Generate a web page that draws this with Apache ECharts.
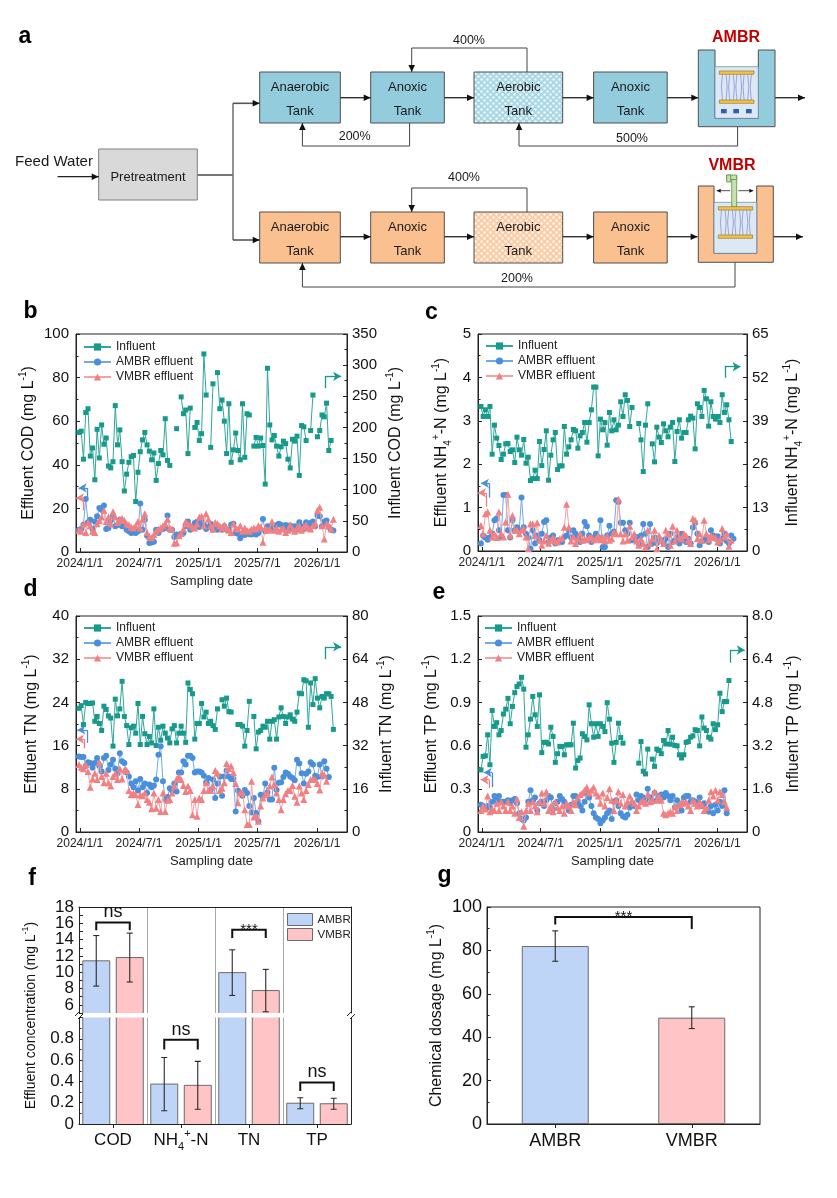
<!DOCTYPE html>
<html><head><meta charset="utf-8"><title>AMBR vs VMBR</title>
<script src="https://cdn.jsdelivr.net/npm/echarts@6/dist/echarts.min.js"></script>
<style>html,body{margin:0;padding:0;background:#fff;}#chart{width:837px;height:1198px;}</style>
</head><body><div id="chart"></div>
<script>
// ---------------- DATA ----------------
const sampleDates = ['2023-12-29','2024-01-05','2024-01-12','2024-01-19','2024-01-26','2024-02-02','2024-02-09','2024-02-16','2024-02-23','2024-03-01','2024-03-08','2024-03-15','2024-03-22','2024-03-29','2024-04-05','2024-04-12','2024-04-19','2024-04-26','2024-05-03','2024-05-10','2024-05-17','2024-05-24','2024-05-31','2024-06-07','2024-06-14','2024-06-21','2024-06-28','2024-07-05','2024-07-12','2024-07-19','2024-07-26','2024-08-02','2024-08-09','2024-08-16','2024-08-23','2024-08-30','2024-09-06','2024-09-13','2024-09-20','2024-09-27','2024-10-04','2024-10-11','2024-10-18','2024-10-25','2024-11-01','2024-11-08','2024-11-15','2024-11-22','2024-11-29','2024-12-06','2024-12-13','2024-12-20','2024-12-27','2025-01-03','2025-01-10','2025-01-17','2025-01-24','2025-01-31','2025-02-07','2025-02-14','2025-02-21','2025-02-28','2025-03-07','2025-03-14','2025-03-21','2025-03-28','2025-04-04','2025-04-11','2025-04-18','2025-04-25','2025-05-02','2025-05-09','2025-05-16','2025-05-23','2025-05-30','2025-06-06','2025-06-13','2025-06-20','2025-06-27','2025-07-04','2025-07-11','2025-07-18','2025-07-25','2025-08-01','2025-08-08','2025-08-15','2025-08-22','2025-08-29','2025-09-05','2025-09-12','2025-09-19','2025-09-26','2025-10-03','2025-10-10','2025-10-17','2025-10-24','2025-10-31','2025-11-07','2025-11-14','2025-11-21','2025-11-28','2025-12-05','2025-12-12','2025-12-19','2025-12-26','2026-01-02','2026-01-09','2026-01-16','2026-01-23','2026-01-30','2026-02-06','2026-02-13','2026-02-20','2026-02-27'];
const timeTickLabels = ['2024/1/1','2024/7/1','2025/1/1','2025/7/1','2026/1/1'];
const seriesNames = ['Influent','AMBR effluent','VMBR effluent'];

// b: COD (effluent left axis, influent right axis)
const codInfluent = [192,194,149,224,230,154,167,116,197,151, 204,173,183,138,135,145,235,172,196,145, 98,125,144,153,155,81,128,161,180,192, 172,162,148,159,115,142,163,156,214,147, 139,null,null,198,null,249,222,228,158,231, null,200,208,179,190,318,252,null,168,270, null,288,230,244,210,158,238,144,164,191, 163,148,238,152,222,220,null,170,184,170, 183,171,109,295,204,180,187,170,154,169, 178,174,149,135,181,178,186,123,203,201, 179,null,195,252,null,185,195,220,217,239, 163,179,null,null];
const codAMBR = [10.2,10.5,12.5,24.3,13.6,14.8,10.5,14.0,16.4,20.2, 19.4,21.3,10.5,11.0,14.5,16.7,11.8,12.4,14.8,11.8, 11.8,10.2,9.5,8.7,9.0,8.7,9.5,22.2,10.2,14.8, 7.5,4.1,4.4,4.7,10.2,8.7,10.2,10.5,11.0,16.7, 10.2,10.2,6.9,8.0,7.5,8.4,8.7,11.8,14.0,10.2, 11.8,13.3,13.9,11.5,13.9,12.5,10.5,11.5,13.0,10.2, 12.1,10.2,11.0,10.2,11.8,10.2,10.2,12.5,13.0,8.7, 8.4,6.3,8.4,7.8,9.0,8.1,8.0,8.4,8.0,8.7, 10.2,15.1,9.5,11.8,11.8,10.2,11.8,12.4,13.0,12.4, 10.5,12.4,10.2,12.1,11.0,11.8,10.2,13.6,11.8,10.5, 13.6,11.8,13.3,14.0,11.8,16.7,16.4,11.8,14.0,14.5, 11.5,10.2,9.9];
const codVMBR = [10.0,9.5,13.0,9.0,13.5,12.0,9.5,9.0,13.0,14.5, 16.0,19.0,14.0,16.0,13.0,18.5,16.0,13.5,15.0,15.5, 14.5,13.0,12.5,11.5,11.0,12.0,14.0,11.0,15.0,17.5, 9.0,7.0,6.5,8.0,9.5,10.5,11.0,12.0,13.0,15.0, 11.0,10.5,4.0,4.2,7.5,8.5,10.5,14.0,13.0,12.5, 11.5,11.0,13.0,16.0,16.5,12.0,17.5,15.0,12.0,10.5, 13.5,13.0,12.0,11.0,12.5,11.0,10.0,9.0,13.0,11.0, 10.5,12.0,9.5,11.0,10.0,9.5,10.5,11.0,10.5,12.0, 11.5,4.5,11.0,10.0,10.5,14.0,10.0,11.0,9.5,10.5, 11.0,9.0,10.0,12.5,10.5,9.5,11.0,12.0,10.0,11.5, 12.5,11.0,10.5,12.0,13.0,19.0,20.5,12.0,6.0,13.0, 12.0,10.5,15.0];

// c: NH4+-N
const nhInfluent = [43.3,40.3,42.3,40.3,43.3,29.0,37.7,33.8,31.6,27.4, 29.0,32.1,32.2,29.8,30.3,26.5,34.1,30.3,28.7,33.4, 26.3,28.1,21.1,21.7,24.2,21.7,32.8,25.6,30.4,36.0, 21.2,28.7,33.3,35.5,24.4,25.5,25.5,37.3,29.0,31.2, 33.3,36.4,36.0,30.8,34.5,35.5,38.5,32.6,38.5,42.3, 49.1,49.1,28.5,39.5,36.3,38.5,31.7,41.5,36.0,39.3, 36.3,37.7,44.7,40.3,46.8,45.1,37.3,43.0,null,null, 38.2,33.3,23.8,37.7,44.1,null,32.1,26.7,37.1,34.1, 32.5,38.1,36.0,34.2,37.1,38.5,26.8,35.8,39.3,33.8, 35.5,35.5,39.3,40.4,39.8,30.6,44.1,43.0,40.3,48.1, 45.6,37.4,44.7,40.3,39.5,40.3,38.5,46.8,41.5,43.8, 39.3,32.8,null,null];
const nhAMBR = [0.17,0.36,0.31,0.26,0.31,0.40,0.71,0.75,0.48,0.32, 1.29,1.29,0.48,0.31,0.71,0.48,0.55,0.48,1.23,0.55, 0.40,0.31,0.05,0.48,0.17,0.36,0.25,0.40,0.67,0.71, 0.21,0.31,0.36,0.17,0.25,0.25,0.21,0.32,0.36,0.48, 0.31,0.48,0.40,0.31,0.21,0.40,0.67,0.57,0.36,0.21, 0.31,0.40,0.32,0.71,0.09,0.09,0.36,0.58,0.40,0.45, 1.17,1.13,0.65,0.65,0.48,0.40,0.65,0.25,0.31,0.32, 0.17,0.36,0.62,0.40,0.09,0.62,0.17,0.31,0.18,0.28, 0.25,0.17,0.28,0.09,0.40,0.21,0.25,0.32,0.17,0.40, 0.25,0.21,0.28,0.17,0.54,0.65,0.40,0.13,0.23,0.25, 0.32,0.21,0.48,0.36,0.28,0.34,0.17,0.28,0.40,0.23, 0.18,0.36,0.28];
const nhVMBR = [0.59,0.40,0.86,0.90,0.48,0.32,0.40,0.31,0.90,0.40, 0.32,0.67,1.31,0.36,0.82,0.48,0.48,0.40,0.48,0.52, 0.32,0.05,0.63,0.62,0.36,0.65,0.25,0.13,0.23,0.36, 0.18,0.25,0.31,0.23,0.21,0.28,0.30,0.55,1.08,0.55, 0.23,0.32,0.17,0.28,0.40,0.25,0.28,0.26,0.31,0.32, 0.26,0.28,0.36,0.26,0.32,0.23,0.34,0.25,0.28,0.44, 0.40,1.19,0.40,0.23,0.40,0.25,0.57,0.32,0.40,0.23, 0.13,0.28,0.17,0.09,0.48,0.17,0.28,0.48,0.05,0.36, 0.25,0.17,0.48,0.40,0.13,0.57,0.23,0.48,0.32,0.28, 0.40,0.36,0.25,0.17,0.75,0.71,0.28,0.40,0.25,0.71, 0.40,0.26,0.36,0.32,0.31,0.21,0.26,0.52,0.32,0.40, 0.11,0.25];

// d: TN
const tnInfluent = [45.8,46.8,39.8,48.0,47.6,47.6,47.8,41.0,42.8,40.2, 37.6,46.6,45.4,43.0,42.2,31.8,49.2,43.0,45.6,55.8, 42.8,39.4,32.4,38.6,39.2,36.6,47.6,32.4,42.8,36.4, 32.4,35.4,33.0,45.6,32.0,38.8,34.0,39.2,36.6,34.8, 33.0,38.2,39.4,33.0,36.6,39.2,36.6,33.2,55.2,52.8, 51.2,34.4,40.2,40.2,47.6,42.6,44.4,40.2,41.0,39.4, 38.0,45.6,null,49.0,46.6,49.6,44.6,44.4,null,null, 39.8,39.8,39.2,31.8,37.6,48.4,null,42.8,30.8,37.0, 37.6,39.2,38.8,41.0,34.4,41.0,41.6,34.4,42.6,46.0, 42.8,40.2,42.6,43.4,41.8,41.0,44.4,51.4,51.2,56.4, 56.0,38.8,55.2,47.2,56.8,49.6,46.0,50.2,49.6,51.2, 51.2,50.2,38.0,null];
const tnAMBR = [14.0,13.9,13.9,12.2,12.9,12.8,11.9,12.8,13.7,12.2, 11.2,13.7,14.1,11.5,12.5,13.4,11.7,10.9,14.6,13.1, 12.8,11.0,10.3,9.0,8.3,9.4,7.7,9.8,8.3,9.0, 7.2,8.8,8.3,8.6,9.7,14.3,15.9,9.4,6.0,6.5, 8.1,7.7,9.0,7.5,11.0,11.0,13.1,12.5,14.1,14.1, 13.7,11.0,11.2,11.2,11.0,10.4,9.2,10.0,7.8,9.7, 6.3,9.0,10.3,6.7,10.3,11.4,10.3,9.8,9.8,3.8, 7.7,7.2,6.7,7.8,7.2,4.8,3.6,6.3,3.5,2.0, 6.9,6.6,9.0,7.3,6.0,6.0,11.9,7.8,9.1,9.2, 10.2,11.0,10.8,10.3,10.0,9.6,13.4,12.7,10.9,9.0, 10.8,11.2,12.9,12.5,10.4,10.2,12.5,10.3,13.1,11.7, 10.2];
const tnVMBR = [12.5,12.0,11.7,12.5,11.2,8.3,9.8,10.9,9.7,12.9, 10.3,9.1,10.9,9.1,8.5,10.3,10.8,9.7,11.7,9.8, 11.5,11.4,7.7,6.9,7.2,6.9,5.1,6.9,6.7,7.2, 6.0,5.5,4.3,7.2,4.4,6.0,3.8,7.2,3.8,5.9, 6.0,7.2,8.5,9.8,10.3,9.7,8.6,7.5,8.5,7.7, 3.2,6.0,2.9,6.3,6.0,7.7,9.1,7.7,7.7,8.5, 11.4,10.9,7.7,8.1,9.1,12.7,11.7,12.2,11.0,9.0, 5.4,7.2,7.3,4.1,1.4,1.4,9.4,2.8,2.9,2.0, 4.8,6.3,6.9,7.2,8.5,10.2,8.8,7.2,6.0,4.1, 6.0,7.1,7.7,7.7,8.6,6.6,5.5,8.5,7.2,6.0, 7.7,8.8,9.7,9.8,9.7,9.0,7.8,10.9,10.6,9.4];

// e: TP
const tpInfluent = [2.30,2.80,2.82,3.60,2.49,4.50,3.91,4.05,3.60,3.76, 4.37,4.55,4.95,4.01,4.65,5.16,5.39,5.48,5.73,5.29, 3.14,3.60,4.18,5.02,4.34,3.91,5.08,2.94,3.32,3.32, 3.26,3.88,3.54,2.58,2.90,3.17,3.17,2.86,3.23,3.23, 3.23,4.03,2.37,2.65,2.74,3.64,3.54,3.41,4.71,4.01, 3.51,4.01,3.54,4.01,3.91,3.72,4.79,4.18,3.29,2.58, 3.32,4.03,3.50,3.29,null,null,null,null,null,null, 2.55,3.35,2.25,2.15,3.07,null,2.70,2.43,3.07,3.02, 2.90,3.39,3.26,3.76,3.25,3.51,3.21,3.19,2.86,2.74, 2.86,3.32,3.35,3.51,3.56,3.79,3.76,3.19,4.26,3.85, 3.76,3.51,3.44,4.01,3.79,3.97,5.14,4.46,4.83,4.83, 5.61,null,null,null];
const tpAMBR = [0.19,0.18,0.16,0.18,0.17,0.21,0.25,0.22,0.25,0.21, 0.21,0.21,0.22,0.20,0.22,0.23,0.20,0.13,0.09,0.08, 0.10,0.21,0.29,0.22,0.24,0.15,0.20,0.21,0.18,0.22, 0.25,0.24,0.16,0.20,0.21,0.25,0.23,0.21,0.18,0.15, 0.19,0.25,0.25,0.20,0.18,0.15,0.21,0.27,0.24,0.18, 0.13,0.10,0.09,0.06,0.08,0.10,0.13,0.15,0.09,0.21, 0.22,0.18,0.13,0.11,0.10,0.12,0.17,0.20,0.18,0.26, 0.22,0.25,0.24,0.22,0.30,0.24,0.21,0.27,0.22,0.25, 0.26,0.24,0.27,0.25,0.22,0.25,0.17,0.22,0.18,0.15, 0.24,0.25,0.25,0.21,0.22,0.21,0.20,0.24,0.18,0.20, 0.15,0.14,0.18,0.13,0.19,0.15,0.21,0.18,0.29,0.13];
const tpVMBR = [0.15,0.18,0.16,0.25,0.14,0.16,0.15,0.20,0.15,0.21, 0.18,0.15,0.21,0.15,0.18,0.13,0.23,0.10,0.14,0.04, 0.15,0.20,0.15,0.21,0.18,0.14,0.21,0.27,0.20,0.28, 0.15,0.18,0.14,0.21,0.17,0.15,0.18,0.13,0.20,0.18, 0.15,0.21,0.19,0.24,0.26,0.27,0.29,0.31,0.27,0.29, 0.31,0.27,0.25,0.20,0.27,0.18,0.24,0.30,0.22,0.15, 0.22,0.28,0.20,0.26,0.18,0.21,0.25,0.22,0.20,0.15, 0.18,0.21,0.22,0.20,0.26,0.21,0.22,0.28,0.22,0.25, 0.22,0.13,0.12,0.13,0.14,0.13,0.18,0.15,0.19,0.21, 0.20,0.21,0.18,0.15,0.22,0.20,0.18,0.21,0.19,0.15, 0.17,0.22,0.28,0.25,0.29,0.22,0.28,0.26,0.21,0.17];

// axis-indicator arrows: [x of stem, x of tip, y of head, y of tail]
const arrowsB = {inf:['2026-01-26','2026-03-16',282,263], amb:['2024-01-23','2023-12-28',29.4,24.0], vmb:['2024-01-11','2023-12-20',24.8,19.1]};
const arrowsC = {inf:['2026-01-24','2026-03-14',55.2,51.9], amb:['2024-01-24','2023-12-29',1.56,1.23], vmb:['2024-01-14','2023-12-20',1.34,1.02]};
const arrowsD = {inf:['2026-01-26','2026-03-16',68.6,64.0], amb:['2024-01-23','2023-12-24',18.9,16.5], vmb:['2024-01-14','2023-12-20',17.2,15.5]};
const arrowsE = {inf:['2026-02-09','2026-03-27',6.74,6.27], amb:['2024-02-01','2024-01-07',0.413,0.312], vmb:['2024-01-24','2023-12-28',0.363,0.305]};

// f: effluent concentration summary
const fCategories = ['COD','NH4+-N','TN','TP'];
const fMeanAMBR = [11.4, 0.375, 9.95, 0.195];
const fSdAMBR   = [3.1, 0.25, 2.8, 0.052];
const fMeanVMBR = [11.8, 0.363, 7.75, 0.19];
const fSdVMBR   = [3.0, 0.225, 2.6, 0.052];
const fSigLabel = ['ns','ns','***','ns'];
const fSigY     = [16.1, 0.79, 15.2, 0.39];
const fSigLegY  = [15.15, 0.70, 14.2, 0.31];

// g: chemical dosage
const gCategories = ['AMBR','VMBR'];
const gMean = [82, 49];
const gSd = [7, 5];
const gSigLabel = '***';
const gSigY = 95.4, gSigLegL = 91.9, gSigLegR = 89.9;

// ---------------- STYLE ----------------
const FONT = '"Liberation Sans", Arial, Helvetica, sans-serif';
const AX = '#222';
const C_INF = '#17998b', C_INF_L = '#2fa89a';
const C_AMB = '#4a8fdc', C_AMB_L = '#72a9e8';
const C_VMB = '#f27f82', C_VMB_L = '#f5a2a4';
const BAR_AMB = '#bed5f7', BAR_VMB = '#ffc4c5', BAR_EDGE = '#6b6b6b';
const F_BAR_W = 27, F_BAR_GAP = 6.5, F_OFF = (F_BAR_W + F_BAR_GAP) / 2;

function d2t(s){ const p = s.split(/[-\/]/).map(Number); return new Date(p[0], p[1]-1, p[2]).getTime(); }
const X_MIN = d2t('2023-12-20'), X_MAX = d2t('2026-04-03');
const tickTs = timeTickLabels.map(d2t);
const dateTs = sampleDates.map(d2t);
function fmtDate(v){ const d = new Date(v); return d.getFullYear() + '/' + (d.getMonth()+1) + '/' + d.getDate(); }
function toPairs(arr){ return arr.map((v,i) => [dateTs[i], v == null ? '-' : v]); }

function nameStyle(size){
  const s = Math.round(size*0.62);
  return {fontFamily:FONT, fontSize:size, color:'#111', lineHeight:size+6,
    rich:{sup:{fontFamily:FONT, fontSize:s, lineHeight:s, verticalAlign:'top', color:'#111'},
          sub:{fontFamily:FONT, fontSize:s, lineHeight:s, verticalAlign:'bottom', color:'#111'}}};
}

// ---------------- AXES ----------------
function timeAxis(gi){
  return {type:'value', gridIndex:gi, min:X_MIN, max:X_MAX, scale:true,
    axisLine:{show:true, onZero:false, lineStyle:{color:AX, width:1}},
    axisTick:{show:true, inside:true, length:4, customValues:tickTs, lineStyle:{color:AX}},
    minorTick:{show:false}, splitLine:{show:false},
    axisLabel:{customValues:tickTs, formatter:fmtDate, fontFamily:FONT, fontSize:12, color:'#222', margin:6, hideOverlap:false},
    name:'Sampling date', nameLocation:'middle', nameGap:23,
    nameTextStyle:{fontFamily:FONT, fontSize:13, color:'#222'}};
}
function yAx(gi, pos, min, max, interval, o){
  o = o || {};
  const ticks = o.ticks !== false;
  return {type:'value', gridIndex:gi, position:pos, min, max, interval,
    axisLine:{show:true, onZero:false, lineStyle:{color:AX, width:1}},
    axisTick:{show:ticks, inside:true, length:4, lineStyle:{color:AX}},
    minorTick:{show:ticks && o.minor !== false, splitNumber:2, length:2.5, lineStyle:{color:AX}},
    splitLine:{show:false},
    axisLabel:{show:o.labels !== false, fontFamily:FONT, fontSize:o.fs || 15, color:'#111',
      margin:o.margin != null ? o.margin : (pos === 'left' ? 7 : 5), formatter:o.fmt},
    name:o.name || '', nameLocation:'middle', nameRotate:90, nameGap:o.gap || 30,
    nameTextStyle:nameStyle(o.nfs || 16)};
}
const xAxes = [timeAxis(0), timeAxis(1), timeAxis(2), timeAxis(3),
  {type:'category', gridIndex:4, position:'top', data:fCategories,
    axisLine:{show:true, lineStyle:{color:AX}}, axisTick:{show:false}, axisLabel:{show:false},
    splitLine:{show:true, interval:0, lineStyle:{color:'#a8a8a8', width:1}}},
  {type:'category', gridIndex:5, position:'bottom', data:fCategories,
    axisLine:{show:true, lineStyle:{color:AX}},
    axisTick:{show:true, alignWithLabel:true, interval:0, length:4, lineStyle:{color:AX}},
    axisLabel:{interval:0, hideOverlap:false, fontFamily:FONT, fontSize:17, color:'#111', margin:4, lineHeight:24,
      formatter:v => v === 'NH4+-N' ? 'NH{sub|4}{sup|+}-N' : v,
      rich:{sub:{fontFamily:FONT, fontSize:11, lineHeight:11, verticalAlign:'bottom', color:'#111'},
            sup:{fontFamily:FONT, fontSize:11, lineHeight:11, verticalAlign:'top', color:'#111'}}},
    splitLine:{show:true, interval:0, lineStyle:{color:'#a8a8a8', width:1}}},
  {type:'category', gridIndex:6, data:gCategories,
    axisLine:{show:true, lineStyle:{color:AX}},
    axisTick:{show:true, alignWithLabel:true, interval:0, length:4, lineStyle:{color:AX}},
    axisLabel:{interval:0, fontFamily:FONT, fontSize:18, color:'#111', margin:8}, splitLine:{show:false}}
];
const one = v => (v === 0 ? '0' : v.toFixed(1));
const yAxes = [
  yAx(0,'left',0,100,20,{name:'Effluent COD (mg L{sup|-1})', gap:35}),
  yAx(0,'right',0,350,50,{name:'Influent COD (mg L{sup|-1})', gap:38}),
  yAx(1,'left',0,5,1,{name:'Effluent NH{sub|4}{sup|+}-N (mg L{sup|-1})', gap:25}),
  yAx(1,'right',0,65,13,{name:'Influent NH{sub|4}{sup|+}-N (mg L{sup|-1})', gap:35}),
  yAx(2,'left',0,40,8,{name:'Effluent TN (mg L{sup|-1})', gap:33}),
  yAx(2,'right',0,80,16,{name:'Influent TN (mg L{sup|-1})', gap:29}),
  yAx(3,'left',0,1.5,0.3,{name:'Effluent TP (mg L{sup|-1})', gap:35, fmt:v => (v === 0 ? '0' : String(+v.toFixed(1)))}),
  yAx(3,'right',0,8,1.6,{name:'Influent TP (mg L{sup|-1})', gap:36, fmt:one}),
  yAx(4,'left',5,18,1,{fs:17, margin:5, minor:false, fmt:v => (v % 2 === 0 ? String(v) : '')}),
  yAx(4,'right',5,18,1,{ticks:false, labels:false}),
  yAx(5,'left',0,1,0.2,{fs:17, margin:5, fmt:v => (v >= 1 ? '' : one(v))}),
  yAx(5,'right',0,1,0.2,{ticks:false, labels:false}),
  yAx(6,'left',0,100,20,{fs:18, margin:5, name:'Chemical dosage (mg L{sup|-1})', gap:36})
];

// ---------------- SERIES ----------------
function arrowMark(color, a){
  const x0 = d2t(a[0]), x1 = d2t(a[1]);
  return {silent:true, animation:false, symbol:['none','none'], symbolSize:[7,8],
    label:{show:false}, emphasis:{disabled:true},
    lineStyle:{color, width:1.3, type:'solid'},
    data:[[{coord:[x0,a[3]]},{coord:[x0,a[2]]}],
          [{coord:[x0,a[2]]},{coord:[x1,a[2]], symbol:'arrow'}]]};
}
function tsSeries(k, inf, amb, vmb, arr){
  return [
    {name:seriesNames[0], type:'line', xAxisIndex:k, yAxisIndex:2*k+1, data:toPairs(inf),
      symbol:'rect', symbolSize:5, itemStyle:{color:C_INF}, lineStyle:{color:C_INF_L, width:1},
      markLine:arrowMark(C_INF, arr.inf), z:2},
    {name:seriesNames[1], type:'line', xAxisIndex:k, yAxisIndex:2*k, data:toPairs(amb),
      symbol:'circle', symbolSize:6, itemStyle:{color:C_AMB}, lineStyle:{color:C_AMB_L, width:1},
      markLine:arrowMark(C_AMB, arr.amb), z:3},
    {name:seriesNames[2], type:'line', xAxisIndex:k, yAxisIndex:2*k, data:toPairs(vmb),
      symbol:'triangle', symbolSize:7, itemStyle:{color:C_VMB}, lineStyle:{color:C_VMB_L, width:1},
      markLine:arrowMark(C_VMB, arr.vmb), z:4}
  ];
}

function fBarItem(sign, fill){
  return function(params, api){
    const cs = params.coordSys;
    const ci = api.value(0), v = api.value(1);
    const p = api.coord([ci, v]);
    const yb = cs.y + cs.height;
    if (p[1] >= yb) return null;
    const clippedTop = p[1] < cs.y;
    const yt = Math.max(p[1], cs.y);
    const cx = p[0] + sign*F_OFF, x0 = cx - F_BAR_W/2, x1 = cx + F_BAR_W/2;
    const st = {stroke:BAR_EDGE, lineWidth:1, fill:null};
    const ch = [
      {type:'rect', shape:{x:x0, y:yt, width:F_BAR_W, height:yb-yt}, style:{fill, stroke:null}},
      {type:'line', shape:{x1:x0, y1:yb, x2:x0, y2:yt}, style:st},
      {type:'line', shape:{x1:x1, y1:yb, x2:x1, y2:yt}, style:st}
    ];
    if (!clippedTop) ch.push({type:'line', shape:{x1:x0, y1:yt, x2:x1, y2:yt}, style:st});
    return {type:'group', children:ch};
  };
}
function errItem(offset){
  return function(params, api){
    const ci = api.value(0), lo = api.value(1), hi = api.value(2), s = api.value(3);
    const a = api.coord([ci, lo]), b = api.coord([ci, hi]);
    const x = a[0] + s*offset, c = 3;
    const st = {stroke:'#2a2a2a', lineWidth:1.1, fill:null};
    return {type:'group', children:[
      {type:'line', shape:{x1:x, y1:a[1], x2:x, y2:b[1]}, style:st},
      {type:'line', shape:{x1:x-c, y1:a[1], x2:x+c, y2:a[1]}, style:st},
      {type:'line', shape:{x1:x-c, y1:b[1], x2:x+c, y2:b[1]}, style:st}]};
  };
}
function sigText(label, x, y){
  const star = label.indexOf('*') >= 0;
  return {type:'text', x, y: star ? y : y - 1,
    style:{text:label, fontFamily:FONT, fontSize: star ? 15 : 18, fill:'#111', align:'center', verticalAlign: star ? 'middle' : 'bottom'}};
}
function fSigItem(params, api){
  const ci = api.value(0), top = api.value(1), leg = api.value(2);
  const a = api.coord([ci, top]), b = api.coord([ci, leg]);
  const xl = a[0] - F_OFF, xr = a[0] + F_OFF;
  return {type:'group', children:[
    {type:'polyline', shape:{points:[[xl,b[1]],[xl,a[1]],[xr,a[1]],[xr,b[1]]]}, style:{stroke:'#111', lineWidth:2, fill:null}},
    sigText(fSigLabel[ci], a[0], a[1])]};
}

const fIdx = fCategories.map((c,i) => i);
const upperCats = fIdx.filter(i => fMeanAMBR[i] >= 5);
const lowerCats = fIdx.filter(i => fMeanAMBR[i] < 5);
function errData(cats){
  const out = [];
  cats.forEach(i => {
    out.push([i, fMeanAMBR[i]-fSdAMBR[i], fMeanAMBR[i]+fSdAMBR[i], -1]);
    out.push([i, fMeanVMBR[i]-fSdVMBR[i], fMeanVMBR[i]+fSdVMBR[i], 1]);
  });
  return out;
}
function fSeries(xi, yi, cats){
  return [
    {name:'AMBR', type:'custom', xAxisIndex:xi, yAxisIndex:yi, data:fMeanAMBR.map((v,i)=>[i,v]), renderItem:fBarItem(-1, BAR_AMB), itemStyle:{color:BAR_AMB}, z:2, silent:true},
    {name:'VMBR', type:'custom', xAxisIndex:xi, yAxisIndex:yi, data:fMeanVMBR.map((v,i)=>[i,v]), renderItem:fBarItem(1, BAR_VMB), itemStyle:{color:BAR_VMB}, z:2, silent:true},
    {type:'custom', xAxisIndex:xi, yAxisIndex:yi, data:errData(cats), renderItem:errItem(F_OFF), clip:true, z:3, silent:true},
    {type:'custom', xAxisIndex:xi, yAxisIndex:yi, data:cats.map(i => [i, fSigY[i], fSigLegY[i]]), renderItem:fSigItem, clip:true, z:3, silent:true}
  ];
}

const gSeries = [
  {type:'bar', xAxisIndex:6, yAxisIndex:12, barWidth:67, silent:true,
    data:gMean.map((v,i) => ({value:v, itemStyle:{color: i === 0 ? BAR_AMB : BAR_VMB}})),
    itemStyle:{borderColor:BAR_EDGE, borderWidth:1}},
  {type:'custom', xAxisIndex:6, yAxisIndex:12, silent:true, z:3,
    data:gMean.map((v,i) => [i, v-gSd[i], v+gSd[i], 0]), renderItem:errItem(0)},
  {type:'custom', xAxisIndex:6, yAxisIndex:12, silent:true, z:3,
    data:[[0, 1, gSigY, gSigLegL, gSigLegR]],
    renderItem:function(params, api){
      const a = api.coord([api.value(0), api.value(2)]), b = api.coord([api.value(1), api.value(2)]);
      const la = api.coord([api.value(0), api.value(3)]), lb = api.coord([api.value(1), api.value(4)]);
      return {type:'group', children:[
        {type:'polyline', shape:{points:[[a[0],la[1]],[a[0],a[1]],[b[0],b[1]],[b[0],lb[1]]]}, style:{stroke:'#111', lineWidth:2, fill:null}},
        sigText(gSigLabel, (a[0]+b[0])/2, a[1])]};
    }}
];

// ---------------- DIAGRAM (panel a) + decorations ----------------
function dotPattern(base){
  const c = document.createElement('canvas'); c.width = 6; c.height = 6;
  const x = c.getContext('2d'); x.fillStyle = base; x.fillRect(0,0,6,6);
  x.fillStyle = 'rgba(255,255,255,0.85)';
  x.beginPath(); x.arc(1.5,1.5,1.25,0,7); x.fill();
  x.beginPath(); x.arc(4.5,4.5,1.25,0,7); x.fill();
  return {image:c, repeat:'repeat'};
}
const G = [];
function gRect(x,y,w,h,fill,stroke,lw){ G.push({type:'rect', shape:{x,y,width:w,height:h}, style:{fill, stroke:stroke||null, lineWidth:lw||1}, silent:true}); }
function gPoly(points,fill,stroke,lw){ G.push({type:'polygon', shape:{points}, style:{fill, stroke:stroke||null, lineWidth:lw||1}, silent:true}); }
function gLine(points,stroke,lw){ G.push({type:'polyline', shape:{points}, style:{stroke:stroke||'#3a3a3a', lineWidth:lw||1, fill:null}, silent:true}); }
function gHead(tip,dir,L,W,color){
  const x = tip[0], y = tip[1]; L = L || 7; W = W || 3.3; let p;
  if (dir === 'r') p = [[x,y],[x-L,y-W],[x-L,y+W]];
  else if (dir === 'l') p = [[x,y],[x+L,y-W],[x+L,y+W]];
  else if (dir === 'u') p = [[x,y],[x-W,y+L],[x+W,y+L]];
  else p = [[x,y],[x-W,y-L],[x+W,y-L]];
  gPoly(p, color || '#111');
}
function gArrow(points,stroke,lw,L,W){
  gLine(points,stroke,lw);
  const a = points[points.length-2], b = points[points.length-1];
  const dir = Math.abs(b[0]-a[0]) > Math.abs(b[1]-a[1]) ? (b[0] > a[0] ? 'r' : 'l') : (b[1] > a[1] ? 'd' : 'u');
  gHead(b, dir, L, W);
}
function gText(x,y,t,size,opts){ G.push({type:'text', x, y, style:Object.assign({text:t, fontSize:size||13, fontFamily:FONT, fill:'#1a1a1a', align:'center', verticalAlign:'middle'}, opts||{}), silent:true}); }

const BLUE = '#93cddd', ORANGE = '#fac08f', EDGE = '#4f4f4f', WATER = '#dce9f5';
const rows = [{y:72, fill:BLUE, dots:dotPattern('#a9d8e5')}, {y:212, fill:ORANGE, dots:dotPattern('#fbcda6')}];
const cols = [[259.7,80.6,'Anaerobic\nTank'],[370.7,73.6,'Anoxic\nTank'],[474,88.7,'Aerobic\nTank'],[593.6,73.6,'Anoxic\nTank']];
rows.forEach(r => {
  cols.forEach((c,i) => {
    gRect(c[0], r.y, c[1], 51, i === 2 ? r.dots : r.fill, EDGE, 1);
    gText(c[0]+c[1]/2, r.y+27.5, c[2], 13, {lineHeight:24});
  });
});
gRect(98.7,149,98.6,51,'#d9d9d9','#7f7f7f',1);
gText(148,177,'Pretreatment',13);
gText(54,162,'Feed Water',15);
gArrow([[57.6,176.7],[98.7,176.7]],'#222',1.2);
gLine([[197.3,175],[233,175]],'#777',2);
gLine([[233,103.3],[233,240]],'#777',1.6);
gArrow([[233,103.3],[259.7,103.3]],'#555',1.6);
gArrow([[233,240],[259.7,240]],'#555',1.6);
[[340.3,370.7],[444.3,474],[562.7,593.6],[667.2,698.3],[775,805]].forEach(s => gArrow([[s[0],97.7],[s[1],97.7]],'#333',1.4));
[[340.3,370.7],[444.3,474],[562.7,593.6],[667.2,697.6],[773.3,803]].forEach(s => gArrow([[s[0],236.7],[s[1],236.7]],'#333',1.4));
gArrow([[527,72],[527,48],[411.7,48],[411.7,72]],'#444',1);
gText(469,40.7,'400%',12.5);
gArrow([[409.6,123],[409.6,146],[302.4,146],[302.4,123]],'#444',1);
gText(354.7,137,'200%',12.5);
gArrow([[737.6,126.7],[737.6,146],[519,146],[519,123]],'#444',1);
gText(632,139,'500%',12.5);
gArrow([[527,212],[527,188],[411.7,188],[411.7,212]],'#444',1);
gText(464,178,'400%',12.5);
gArrow([[735,262.3],[735,287],[302.4,287],[302.4,263]],'#444',1);
gText(517,279,'200%',12.5);
// AMBR tank
gPoly([[698.3,50],[715,50],[715,118.3],[758.3,118.3],[758.3,50],[775,50],[775,126.7],[698.3,126.7]], BLUE, EDGE, 1);
gRect(715,66.7,43.3,51.6,WATER,'#6f8fb0',0.8);
for (let k = 0; k < 9; k++) {
  const x = 722.5 + k*3.6;
  G.push({type:'bezierCurve', shape:{x1:x,y1:74.3,x2:x,y2:100,cpx1:x+(k%2?2.2:-2.2),cpy1:87}, style:{stroke:'#8c90d2',lineWidth:0.8,fill:null}, silent:true});
}
gRect(719.3,71,34.7,3.3,'#f3c24c','#8a6d12',0.6);
gRect(719.3,100,34.7,3.3,'#f3c24c','#8a6d12',0.6);
gRect(721,109,5.7,4.3,'#2e5fb0'); gRect(733.3,109,5.7,4.3,'#2e5fb0'); gRect(746,109,5.7,4.3,'#2e5fb0');
gText(736,38,'AMBR',16,{fill:'#c00000', fontWeight:'bold'});
// VMBR tank
gPoly([[698.3,186],[714,186],[714,253.3],[756.7,253.3],[756.7,186],[773.3,186],[773.3,262.3],[698.3,262.3]], ORANGE, EDGE, 1);
gRect(714,202.3,42.7,51,WATER,'#6f8fb0',0.8);
for (let k = 0; k < 9; k++) {
  const x = 721.5 + k*3.6;
  G.push({type:'bezierCurve', shape:{x1:x,y1:210,x2:x,y2:235,cpx1:x+(k%2?2.2:-2.2),cpy1:222.5}, style:{stroke:'#8c90d2',lineWidth:0.8,fill:null}, silent:true});
}
gRect(731.7,176,5,31,'#c6e0b4','#5e8f3e',0.8);
gRect(726.7,175,10,4.5,'#c6e0b4','#5e8f3e',0.8);
gRect(726.7,175,4,7,'#c6e0b4','#5e8f3e',0.8);
gArrow([[730,190.7],[716.7,190.7]],'#222',0.8,4,2);
gArrow([[738.3,190.7],[753.3,190.7]],'#222',0.8,4,2);
gRect(718.3,206.7,34.4,3.3,'#f3c24c','#8a6d12',0.6);
gRect(718.3,235,34.4,3.3,'#f3c24c','#8a6d12',0.6);
gText(732,166,'VMBR',16,{fill:'#c00000', fontWeight:'bold'});
[['a',25,37],['b',30.5,312],['c',431.5,313],['d',30.5,590],['e',439,593],['f',32,879],['g',444.5,876]].forEach(l => gText(l[1],l[2],l[0],23,{fontWeight:'bold', fill:'#000'}));
G.push({type:'text', x:30.7, y:1015.5, rotation:Math.PI/2, silent:true,
  style:{text:'Effluent concentration (mg L{sup|-1})', fontFamily:FONT, fontSize:14, lineHeight:20, fill:'#111', align:'center', verticalAlign:'middle',
    rich:{sup:{fontFamily:FONT, fontSize:9, lineHeight:9, verticalAlign:'top', fill:'#111'}}}});
[79, 351].forEach(x => {
  gLine([[x-4,1016],[x+1,1011]],'#222',1);
  gLine([[x-1,1019],[x+4,1014]],'#222',1);
});

// ---------------- OPTION ----------------
function tsLegend(left, top){
  return {left, top, orient:'vertical', itemGap:1, itemWidth:27, itemHeight:9, padding:0, selectedMode:false,
    data:seriesNames, textStyle:{fontFamily:FONT, fontSize:12, color:'#222', lineHeight:14}};
}
const gridBase = {containLabel:false, outerBoundsMode:'none'};
const option = {
  animation:false,
  backgroundColor:'#fff',
  grid:[
    Object.assign({left:76, top:334, width:271, height:218, show:true, borderColor:AX, borderWidth:1}, gridBase),
    Object.assign({left:478, top:334, width:269, height:217, show:true, borderColor:AX, borderWidth:1}, gridBase),
    Object.assign({left:76, top:616, width:271, height:216, show:true, borderColor:AX, borderWidth:1}, gridBase),
    Object.assign({left:478, top:616, width:269, height:216, show:true, borderColor:AX, borderWidth:1}, gridBase),
    Object.assign({left:79, top:907, width:272, height:106}, gridBase),
    Object.assign({left:79, top:1017.5, width:272, height:106.5}, gridBase),
    Object.assign({left:487, top:907, width:273, height:217, show:true, borderColor:AX, borderWidth:1}, gridBase)
  ],
  xAxis:xAxes,
  yAxis:yAxes,
  legend:[
    tsLegend(83,340), tsLegend(485,339), tsLegend(83,621), tsLegend(484,621),
    {left:287, top:913, orient:'vertical', itemGap:2, itemWidth:25, itemHeight:12, padding:0, selectedMode:false,
      data:[{name:'AMBR', icon:'rect', itemStyle:{color:BAR_AMB, borderColor:BAR_EDGE, borderWidth:1}},
            {name:'VMBR', icon:'rect', itemStyle:{color:BAR_VMB, borderColor:BAR_EDGE, borderWidth:1}}],
      textStyle:{fontFamily:FONT, fontSize:11.5, color:'#222'}}
  ],
  graphic:{elements:G},
  series:[].concat(
    tsSeries(0, codInfluent, codAMBR, codVMBR, arrowsB),
    tsSeries(1, nhInfluent, nhAMBR, nhVMBR, arrowsC),
    tsSeries(2, tnInfluent, tnAMBR, tnVMBR, arrowsD),
    tsSeries(3, tpInfluent, tpAMBR, tpVMBR, arrowsE),
    fSeries(4, 8, upperCats),
    fSeries(5, 10, lowerCats),
    gSeries
  )
};
const chart = echarts.init(document.getElementById('chart'), null, {renderer:'canvas'});
chart.setOption(option);
</script>
</body></html>
